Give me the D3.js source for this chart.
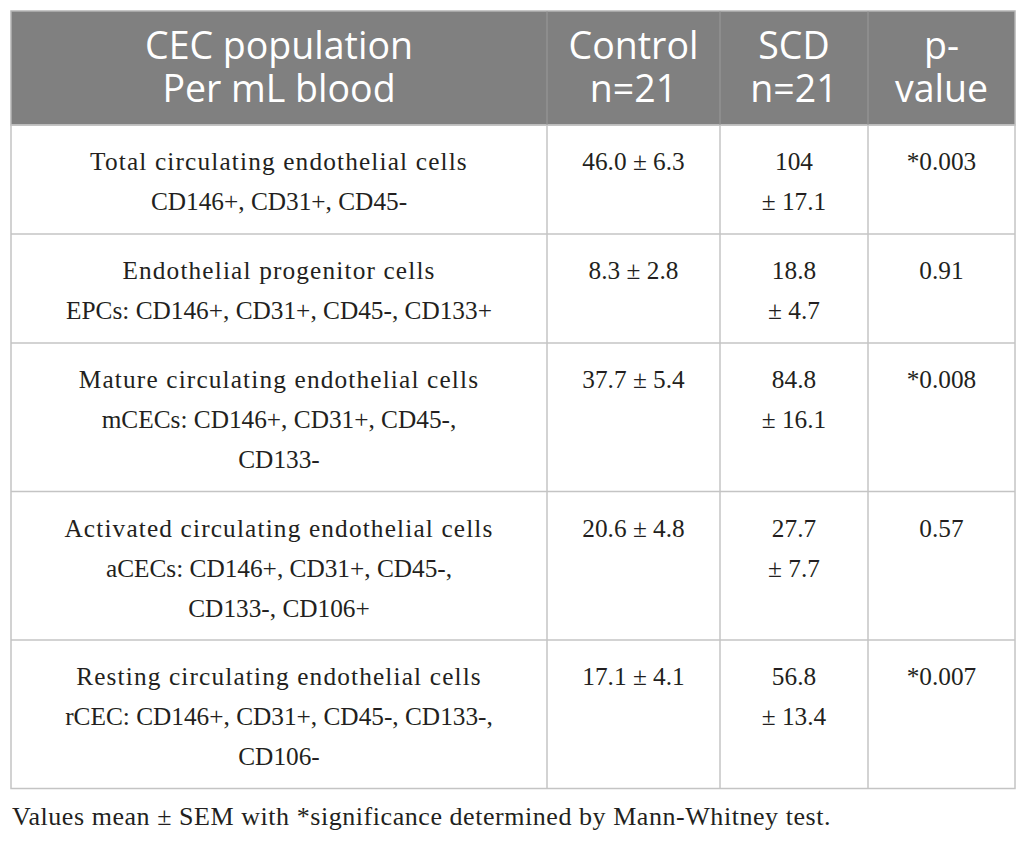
<!DOCTYPE html>
<html>
<head>
<meta charset="utf-8">
<script src="https://cdn.jsdelivr.net/npm/d3@7"></script>
<style>
	body { margin: 0; background: #fff; }
</style>
</head>
<body>
<div id="table"></div>
<script>
// table content
const headers = [
	["CEC population", "Per mL blood"],
	["Control", "n=21"],
	["SCD", "n=21"],
	["p-", "value"]
];
const populations = [
	["Total circulating endothelial cells", "CD146+, CD31+, CD45-"],
	["Endothelial progenitor cells", "EPCs: CD146+, CD31+, CD45-, CD133+"],
	["Mature circulating endothelial cells", "mCECs: CD146+, CD31+, CD45-,", "CD133-"],
	["Activated circulating endothelial cells", "aCECs: CD146+, CD31+, CD45-,", "CD133-, CD106+"],
	["Resting circulating endothelial cells", "rCEC: CD146+, CD31+, CD45-, CD133-,", "CD106-"]
];
const controlMean = ["46.0", "8.3", "37.7", "20.6", "17.1"];
const controlSem = ["6.3", "2.8", "5.4", "4.8", "4.1"];
const scdMean = ["104", "18.8", "84.8", "27.7", "56.8"];
const scdSem = ["17.1", "4.7", "16.1", "7.7", "13.4"];
const pValues = ["*0.003", "0.91", "*0.008", "0.57", "*0.007"];
const footnote = "Values mean \u00b1 SEM with *significance determined by Mann-Whitney test.";

drawtable()

function drawtable() {
	const W = 1026, H = 841;
	const left = 11, right = 1015, top = 11;
	const headH = 114;
	const lineH = 40;      // text line spacing in body
	const rowLine = 39.5;  // row height per text line
	const rowPad = 30;
	const firstBase = 45;  // first baseline offset from row top

	const svg = d3.select("#table")
		.append("svg")
		.attr("width", W)
		.attr("height", H);

	// column edges
	const edges = [left, 547, 720, 868, right];
	const cols = d3.range(headers.length);
	const xc = d3.scaleOrdinal()
		.domain(cols)
		.range(cols.map(i => (edges[i] + edges[i + 1]) / 2));

	// build rows
	const rows = populations.map((p, i) => ({
		cells: [
			p,
			[controlMean[i] + " \u00b1 " + controlSem[i]],
			[scdMean[i], "\u00b1 " + scdSem[i]],
			[pValues[i]]
		]
	}));
	let y0 = top + headH;
	rows.forEach(r => {
		const n = d3.max(r.cells, c => c.length);
		r.y = y0;
		r.h = n * rowLine + rowPad;
		y0 += r.h;
	});
	const bottom = y0;

	// header
	svg.append("rect")
		.attr("x", left)
		.attr("y", top)
		.attr("width", right - left)
		.attr("height", headH)
		.attr("fill", "#808080")
		.attr("stroke", "#b4b4b4")
		.attr("stroke-width", 1.5);

	const head = svg.append("g").attr("class", "head");
	head.selectAll("text")
		.data(headers)
		.join("text")
		.attr("text-anchor", "middle")
		.attr("fill", "#ffffff")
		.style("font-family", "'Open Sans', Lato, sans-serif")
		.style("font-size", "37.5px")
		.each(function(d, i) {
			d3.select(this).selectAll("tspan")
				.data(d)
				.join("tspan")
				.attr("x", xc(i))
				.attr("y", (t, j) => top + 48 + j * 43)
				.text(t => t);
		});

	// body grid
	const grid = svg.append("g")
		.attr("stroke", "#c4c4c4")
		.attr("stroke-width", 1.5)
		.attr("fill", "none");
	grid.selectAll(".hline")
		.data(rows.slice(1))
		.join("line")
		.attr("x1", left)
		.attr("x2", right)
		.attr("y1", d => d.y)
		.attr("y2", d => d.y);
	grid.append("rect")
		.attr("x", left)
		.attr("y", top + headH)
		.attr("width", right - left)
		.attr("height", bottom - top - headH);
	grid.selectAll(".vline")
		.data(edges.slice(1, -1))
		.join("line")
		.attr("x1", d => d)
		.attr("x2", d => d)
		.attr("y1", top + headH)
		.attr("y2", bottom);
	// faint dividers inside header
	svg.append("g")
		.selectAll("line")
		.data(edges.slice(1, -1))
		.join("line")
		.attr("x1", d => d)
		.attr("x2", d => d)
		.attr("y1", top)
		.attr("y2", top + headH)
		.attr("stroke", "#9a9a9a")
		.attr("stroke-width", 1);

	// body text
	const body = svg.append("g")
		.style("font-family", "'Liberation Serif', 'Times New Roman', serif")
		.style("font-size", "25.3px")
		.attr("fill", "#231f20");
	const rg = body.selectAll("g")
		.data(rows)
		.join("g");
	rg.each(function(r) {
		d3.select(this).selectAll("text")
			.data(r.cells)
			.join("text")
			.attr("text-anchor", "middle")
			.each(function(c, i) {
				d3.select(this).selectAll("tspan")
					.data(c)
					.join("tspan")
					.attr("x", xc(i))
					.attr("y", (t, j) => r.y + firstBase + j * lineH)
					// the population names are set a bit looser in the original
					.style("letter-spacing", (t, j) => (i === 0 && j === 0) ? "1.15px" : null)
					.text(t => t);
			});
	});

	// note
	svg.append("text")
		.attr("x", 12)
		.attr("y", bottom + 36)
		.style("font-family", "'Liberation Serif', 'Times New Roman', serif")
		.style("font-size", "26px")
		.style("letter-spacing", "0.55px")
		.attr("fill", "#231f20")
		.text(footnote);
}
</script>
</body>
</html>
